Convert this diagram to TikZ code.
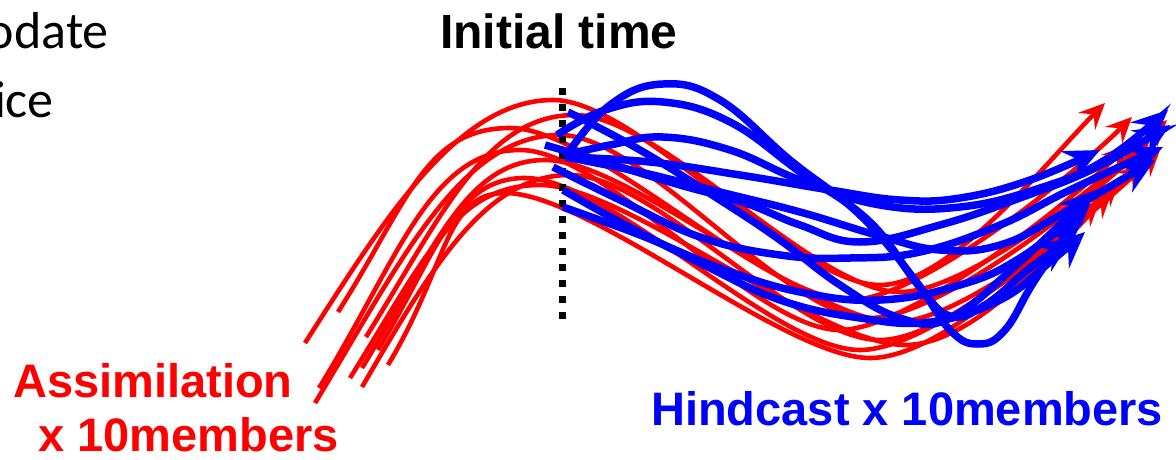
\documentclass[tikz,border=0pt]{standalone}
\usepackage{fontspec}
\setmainfont{Liberation Sans}
\newfontfamily\calibrifont{Carlito}
\usetikzlibrary{arrows.meta}
\definecolor{pr}{RGB}{255,0,0}
\definecolor{pb}{RGB}{0,0,255}
\begin{document}
\begin{tikzpicture}[x=1pt,y=-1pt,
  redline/.style={draw=pr, line width=4.6pt, -{Stealth[length=26pt,width=24pt,inset=10pt]}},
  blueline/.style={draw=pb, line width=7.5pt, -{Stealth[length=36pt,width=32pt,inset=13pt]}},
  lbl/.style={inner sep=0pt, anchor=base west, font=\fontsize{47}{56}\selectfont\bfseries},
  toptxt/.style={inner sep=0pt, anchor=base east, font=\fontsize{52}{60}\selectfont\calibrifont}]
\useasboundingbox (0,0) rectangle (1176,459);
% top-left clipped text
\node[toptxt] (t1) at (109,48) {odate};
\node[toptxt] (t2) at (54,117) {ice};
% title
\node[lbl, font=\fontsize{48}{56}\selectfont\bfseries] (init) at (440,48) {Initial time};
% red assimilation members
\draw[redline] (305,343) .. controls +(80,-125) and +(-95,0) .. (553,100) .. controls +(85,0) and +(-85,0) .. (880,285) .. controls +(70,0) and +(-55,55) .. (1105,103);
\draw[redline] (338,312) .. controls +(70,-110) and +(-85,0) .. (510,128) .. controls +(85,0) and +(-85,0) .. (850,300) .. controls +(70,0) and +(-55,55) .. (1132,117);
\draw[redline] (366,337) .. controls +(75,-120) and +(-90,0) .. (575,115) .. controls +(85,0) and +(-85,0) .. (900,292) .. controls +(70,0) and +(-55,55) .. (1167,120);
\draw[redline] (315,403) .. controls +(85,-140) and +(-100,0) .. (560,135) .. controls +(85,0) and +(-85,0) .. (870,318) .. controls +(70,0) and +(-55,55) .. (1150,140);
\draw[redline] (319,388) .. controls +(80,-130) and +(-90,0) .. (520,150) .. controls +(85,0) and +(-85,0) .. (840,330) .. controls +(70,0) and +(-55,55) .. (1128,145);
\draw[redline] (362,368) .. controls +(70,-115) and +(-80,0) .. (545,160) .. controls +(85,0) and +(-85,0) .. (895,322) .. controls +(70,0) and +(-55,55) .. (1160,150);
\draw[redline] (362,387) .. controls +(70,-120) and +(-85,0) .. (570,175) .. controls +(85,0) and +(-85,0) .. (880,340) .. controls +(70,0) and +(-55,55) .. (1143,163);
\draw[redline] (378,350) .. controls +(60,-100) and +(-70,0) .. (525,178) .. controls +(85,0) and +(-85,0) .. (860,350) .. controls +(70,0) and +(-55,55) .. (1120,180);
\draw[redline] (388,365) .. controls +(60,-100) and +(-60,0) .. (505,193) .. controls +(85,0) and +(-85,0) .. (870,358) .. controls +(70,0) and +(-55,55) .. (1100,200);
\draw[redline] (350,378) .. controls +(75,-120) and +(-85,0) .. (540,185) .. controls +(85,0) and +(-85,0) .. (905,345) .. controls +(70,0) and +(-55,55) .. (1112,192);
% dotted initial-time line
\coordinate (dtop) at (562,88);
\coordinate (dbot) at (562,322);
\draw[line width=7pt, dash pattern=on 7pt off 9pt] (dtop) -- (dbot);
% blue hindcast members
\draw[blueline] plot[smooth, tension=0.7] coordinates {(565,157) (610,105) (663,84) (720,100) (790,160) (860,215) (915,280) (950,330) (978,344) (1005,330) (1035,280) (1078,218)};
\draw[blueline] plot[smooth, tension=0.7] coordinates {(557,135) (605,110) (663,102) (730,122) (800,172) (870,222) (918,285) (950,316) (985,305) (1030,268) (1072,238)};
\draw[blueline] plot[smooth, tension=0.7] coordinates {(565,155) (610,145) (663,137) (730,150) (800,180) (880,205) (960,207) (1040,188) (1105,160) (1168,110)};
\draw[blueline] plot[smooth, tension=0.7] coordinates {(545,145) (607,163) (680,185) (745,203) (800,225) (860,242) (940,225) (1020,198) (1095,168) (1170,125)};
\draw[blueline] plot[smooth, tension=0.7] coordinates {(553,167) (620,200) (700,237) (780,255) (850,258) (920,252) (1000,225) (1070,190) (1163,147)};
\draw[blueline] plot[smooth, tension=0.7] coordinates {(563,207) (640,235) (720,268) (800,292) (880,300) (960,285) (1020,258) (1090,205)};
\draw[blueline] plot[smooth, tension=0.7] coordinates {(568,112) (640,150) (720,200) (780,240) (840,285) (900,318) (950,318) (1020,262) (1095,190)};
\draw[blueline] plot[smooth, tension=0.7] coordinates {(563,190) (620,222) (700,263) (780,300) (860,318) (930,322) (1000,300) (1050,262) (1085,232)};
\draw[blueline] plot[smooth, tension=0.7] coordinates {(565,157) (640,172) (720,192) (800,212) (880,236) (940,250) (1000,245) (1060,215) (1155,160)};
\draw[blueline] plot[smooth, tension=0.7] coordinates {(565,157) (650,162) (740,175) (830,190) (900,200) (960,198) (1030,180) (1100,150)};
% labels
\node[lbl, text=pr] (assim) at (13,397) {Assimilation};
\node[lbl, text=pr] (assimn) at (38,451) {x 10members};
\node[lbl, text=pb] (hind) at (651,425) {Hindcast x 10members};
\end{tikzpicture}
\end{document}
